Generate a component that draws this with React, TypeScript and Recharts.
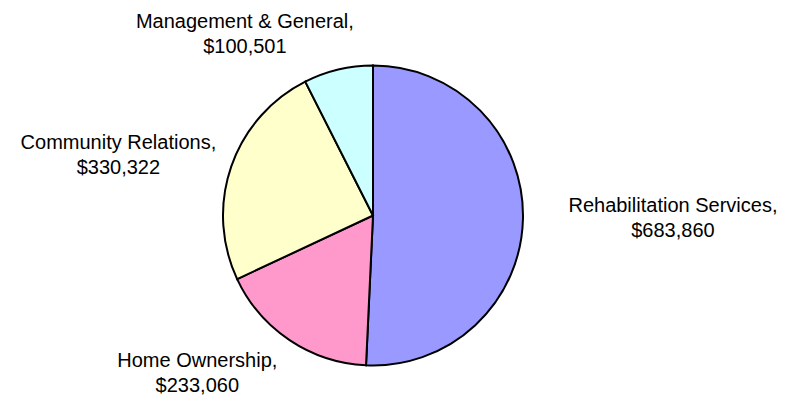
import React from 'react';
import { PieChart, Pie, Cell } from 'recharts';

const categories = ['Rehabilitation Services', 'Home Ownership', 'Community Relations', 'Management & General'];
const amounts = [683860, 233060, 330322, 100501];

const COLORS = ['#9999FF', '#FF99CC', '#FFFFCC', '#CCFFFF'];
// small hand nudges so labels land where the original put them
const LABEL_NUDGE = [
  [110, -3],
  [-70, -1],
  [-75, 0],
  [-84, 2],
];

const RADIAN = Math.PI / 180;
const formatMoney = (v: number) => `$${v.toLocaleString('en-US')}`;

const pieData = categories.map((name, i) => ({ name, value: amounts[i] }));

const renderLabel = (props: any) => {
  const { cx, cy, midAngle, outerRadius, index, name, value } = props;
  const r = outerRadius + 40;
  const x = cx + r * Math.cos(-midAngle * RADIAN) + LABEL_NUDGE[index][0];
  const y = cy + r * Math.sin(-midAngle * RADIAN) + LABEL_NUDGE[index][1];
  return (
    <text
      x={x}
      y={y}
      textAnchor="middle"
      fill="#000"
      fontSize={20}
      fontFamily='"Liberation Sans", Arial, sans-serif'
    >
      <tspan x={x} y={y - 5}>{`${name},`}</tspan>
      <tspan x={x} y={y + 20}>{formatMoney(value)}</tspan>
    </text>
  );
};

export default function App() {
  return (
    <div style={{ position: 'absolute', left: 0, top: 0, width: 789, height: 402, background: '#fff' }}>
      <PieChart width={789} height={402} margin={{ top: 0, right: 0, bottom: 0, left: 0 }}>
        <Pie
          data={pieData}
          dataKey="value"
          nameKey="name"
          cx={373}
          cy={215.5}
          outerRadius={150}
          startAngle={90}
          endAngle={-270}
          stroke="#000"
          strokeWidth={2}
          labelLine={false}
          label={renderLabel}
          isAnimationActive={false}
        >
          {pieData.map((entry, index) => (
            <Cell key={`cell-${index}`} fill={COLORS[index % COLORS.length]} />
          ))}
        </Pie>
      </PieChart>
    </div>
  );
}
